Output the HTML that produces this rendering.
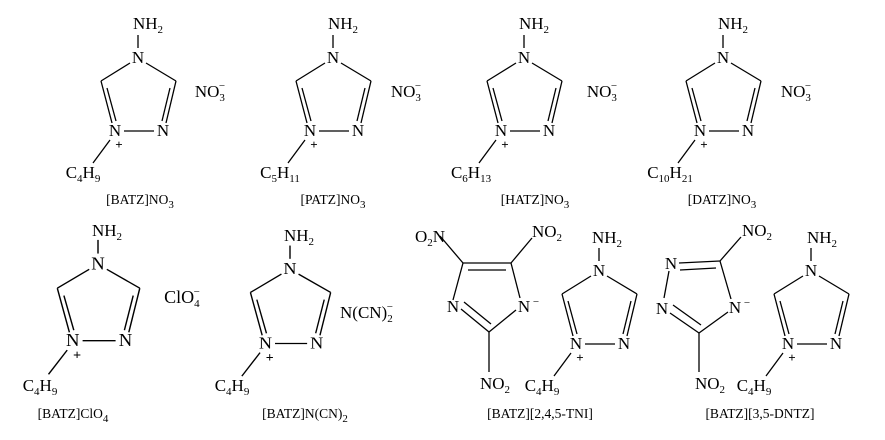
<!DOCTYPE html>
<html><head><meta charset="utf-8"><style>
body{margin:0;background:#fff}
svg{display:block}
text{font-family:"Liberation Serif",serif;fill:#000;font-size:17px;text-anchor:middle}
.l{font-size:13.5px}
.s{font-size:11px}
line{stroke:#000;stroke-width:1.3}
</style></head><body>
<svg width="885" height="440" viewBox="0 0 885 440">
<defs>
<g id="ring">
<line x1="0" y1="-22" x2="0" y2="-9"/>
<text x="0" y="6">N</text>
<line x1="-8" y1="6" x2="-37" y2="24"/>
<line x1="8" y1="6" x2="38" y2="24"/>
<line x1="-37" y1="24" x2="-26" y2="66"/>
<line x1="-31" y1="31" x2="-22" y2="64"/>
<line x1="38" y1="24" x2="28" y2="66"/>
<line x1="32" y1="31" x2="24" y2="64"/>
<text x="-23" y="79">N</text>
<text x="25" y="79">N</text>
<line x1="-14" y1="74" x2="16" y2="74"/>
<text x="-19" y="92" style="font-size:13px;font-weight:bold">+</text>
<line x1="-28" y1="83" x2="-45" y2="106"/>
</g>
</defs>

<!-- Row 1 -->
<g transform="translate(138,57)"><use href="#ring"/><text x="10" y="-28">NH<tspan class="s" dy="4">2</tspan></text><text x="-55" y="121">C<tspan class="s" dy="4">4</tspan><tspan dy="-4">H</tspan><tspan class="s" dy="4">9</tspan></text></g>
<text x="210" y="97">NO<tspan class="s" dy="4">3</tspan><tspan class="s" dx="-6" dy="-12">−</tspan></text>
<text class="l" x="140" y="204">[BATZ]NO<tspan class="s" dy="4">3</tspan></text>

<g transform="translate(333,57)"><use href="#ring"/><text x="10" y="-28">NH<tspan class="s" dy="4">2</tspan></text><text x="-53" y="121">C<tspan class="s" dy="4">5</tspan><tspan dy="-4">H</tspan><tspan class="s" dy="4">11</tspan></text></g>
<text x="406" y="97">NO<tspan class="s" dy="4">3</tspan><tspan class="s" dx="-6" dy="-12">−</tspan></text>
<text class="l" x="333" y="204">[PATZ]NO<tspan class="s" dy="4">3</tspan></text>

<g transform="translate(524,57)"><use href="#ring"/><text x="10" y="-28">NH<tspan class="s" dy="4">2</tspan></text><text x="-53" y="121">C<tspan class="s" dy="4">6</tspan><tspan dy="-4">H</tspan><tspan class="s" dy="4">13</tspan></text></g>
<text x="602" y="97">NO<tspan class="s" dy="4">3</tspan><tspan class="s" dx="-6" dy="-12">−</tspan></text>
<text class="l" x="535" y="204">[HATZ]NO<tspan class="s" dy="4">3</tspan></text>

<g transform="translate(723,57)"><use href="#ring"/><text x="10" y="-28">NH<tspan class="s" dy="4">2</tspan></text><text x="-53" y="121">C<tspan class="s" dy="4">10</tspan><tspan dy="-4">H</tspan><tspan class="s" dy="4">21</tspan></text></g>
<text x="796" y="97">NO<tspan class="s" dy="4">3</tspan><tspan class="s" dx="-6" dy="-12">−</tspan></text>
<text class="l" x="722" y="204">[DATZ]NO<tspan class="s" dy="4">3</tspan></text>

<!-- Row 2 -->
<g transform="translate(98,263) scale(1.1,1.05)"><use href="#ring"/></g>
<text x="107" y="236">NH<tspan class="s" dy="4">2</tspan></text>
<text x="40" y="391">C<tspan class="s" dy="4">4</tspan><tspan dy="-4">H</tspan><tspan class="s" dy="4">9</tspan></text>
<text x="182" y="303" style="font-size:18px">ClO<tspan class="s" dy="4">4</tspan><tspan class="s" dx="-6" dy="-12">−</tspan></text>
<text class="l" x="73" y="418">[BATZ]ClO<tspan class="s" dy="4">4</tspan></text>

<g transform="translate(290,268) scale(1.07,1.02)"><use href="#ring"/></g>
<text x="299" y="241">NH<tspan class="s" dy="4">2</tspan></text>
<text x="232" y="391">C<tspan class="s" dy="4">4</tspan><tspan dy="-4">H</tspan><tspan class="s" dy="4">9</tspan></text>
<text x="340" y="318" style="text-anchor:start">N(CN)<tspan class="s" dy="4">2</tspan><tspan class="s" dx="-6" dy="-12">−</tspan></text>
<text class="l" x="305" y="418">[BATZ]N(CN)<tspan class="s" dy="4">2</tspan></text>

<!-- TNI anion -->
<line x1="463" y1="263" x2="511" y2="263"/>
<line x1="468" y1="270" x2="506" y2="270"/>
<line x1="463" y1="263" x2="453" y2="300"/>
<line x1="511" y1="263" x2="520" y2="298"/>
<text x="453" y="312">N</text>
<text x="524" y="312">N</text><text x="536" y="305" class="s">−</text>
<line x1="461" y1="309" x2="489" y2="332"/>
<line x1="464" y1="302" x2="491" y2="324"/>
<line x1="516" y1="310" x2="489" y2="332"/>
<line x1="489" y1="332" x2="489" y2="372"/>
<line x1="463" y1="263" x2="440" y2="236"/>
<line x1="511" y1="263" x2="532" y2="238"/>
<text x="430" y="242">O<tspan class="s" dy="4">2</tspan><tspan dy="-4">N</tspan></text>
<text x="547" y="237">NO<tspan class="s" dy="4">2</tspan></text>
<text x="495" y="389">NO<tspan class="s" dy="4">2</tspan></text>
<g transform="translate(599,270)"><use href="#ring"/></g>
<text x="607" y="243">NH<tspan class="s" dy="4">2</tspan></text>
<text x="542" y="391">C<tspan class="s" dy="4">4</tspan><tspan dy="-4">H</tspan><tspan class="s" dy="4">9</tspan></text>
<text class="l" x="540" y="418">[BATZ][2,4,5-TNI]</text>

<!-- DNTZ anion -->
<text x="671" y="269">N</text>
<text x="662" y="314">N</text>
<line x1="679" y1="263" x2="720" y2="261"/>
<line x1="680" y1="270" x2="716" y2="268"/>
<line x1="669" y1="271" x2="664" y2="298"/>
<line x1="720" y1="261" x2="731" y2="299"/>
<text x="735" y="313">N</text><text x="747" y="306" class="s">−</text>
<line x1="670" y1="313" x2="699" y2="333"/>
<line x1="673" y1="305" x2="701" y2="325"/>
<line x1="728" y1="312" x2="699" y2="333"/>
<line x1="699" y1="333" x2="699" y2="372"/>
<line x1="720" y1="261" x2="741" y2="237"/>
<text x="757" y="236">NO<tspan class="s" dy="4">2</tspan></text>
<text x="710" y="389">NO<tspan class="s" dy="4">2</tspan></text>
<g transform="translate(811,270)"><use href="#ring"/></g>
<text x="822" y="243">NH<tspan class="s" dy="4">2</tspan></text>
<text x="754" y="391">C<tspan class="s" dy="4">4</tspan><tspan dy="-4">H</tspan><tspan class="s" dy="4">9</tspan></text>
<text class="l" x="760" y="418">[BATZ][3,5-DNTZ]</text>
</svg>
</body></html>
